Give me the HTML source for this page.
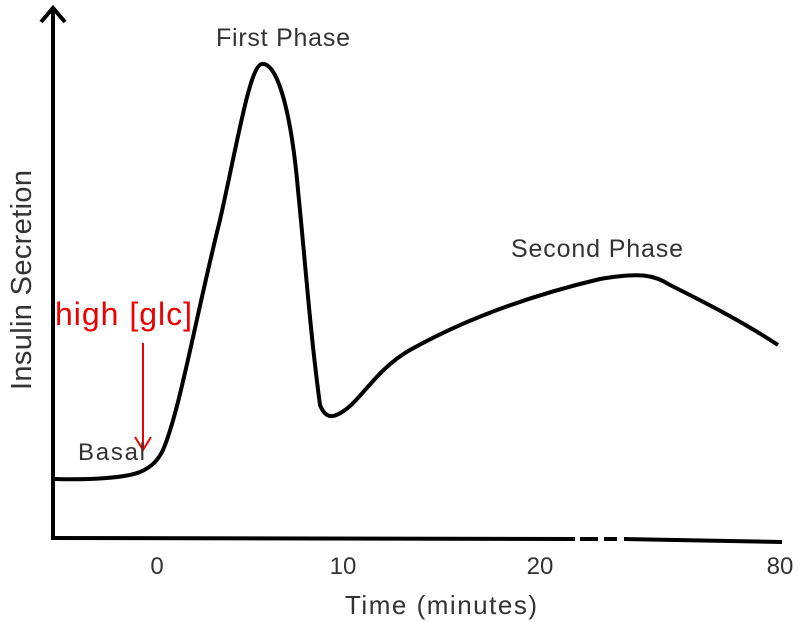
<!DOCTYPE html>
<html><head><style>body{margin:0;background:#fff}svg{display:block}text{font-family:"Liberation Sans",sans-serif;fill:#333}</style></head>
<body>
<svg width="800" height="622" viewBox="0 0 800 622">
<line x1="53" y1="10" x2="53" y2="538" stroke="#000" stroke-width="4"/>
<polyline points="41,22 53,8 65,22" fill="none" stroke="#000" stroke-width="4"/>
<path d="M51 538 L575 539" stroke="#000" stroke-width="4"/>
<path d="M580 539 L598 539 M604 539 L617 539 M624 539 L782 542" stroke="#000" stroke-width="4"/>
<path d="M55 479 C90 480 125 478 140 472 C152 467 158 460 163 450 C180 410 195 320 220 220 C238 140 250 65 262 64 C275 62 290 100 298 190 C306 270 310 330 320 405 C326 420 334 418 345 410 C362 398 378 368 410 350 C460 322 520 298 600 279 C640 272 655 275 670 285 C700 300 740 320 778 345" fill="none" stroke="#000" stroke-width="4"/>
<line x1="143" y1="343" x2="143" y2="448" stroke="#e00" stroke-width="2"/>
<polyline points="135,437 143,450 151,437" fill="none" stroke="#e00" stroke-width="2"/>
<text x="283" y="46" font-size="25" text-anchor="middle" textLength="134">First Phase</text>
<text x="597" y="257" font-size="25" text-anchor="middle" textLength="172">Second Phase</text>
<text x="78" y="460" font-size="24" textLength="67">Basal</text>
<text x="55" y="325" font-size="32" style="fill:#e00" textLength="137">high [glc]</text>
<text x="157" y="574" font-size="24" text-anchor="middle">0</text>
<text x="343" y="574" font-size="24" text-anchor="middle">10</text>
<text x="540" y="574" font-size="24" text-anchor="middle">20</text>
<text x="780" y="574" font-size="24" text-anchor="middle">80</text>
<text x="441" y="614" font-size="26" text-anchor="middle" textLength="192">Time (minutes)</text>
<text transform="translate(31,280) rotate(-90)" font-size="29" text-anchor="middle" textLength="220">Insulin Secretion</text>
</svg>
</body></html>
